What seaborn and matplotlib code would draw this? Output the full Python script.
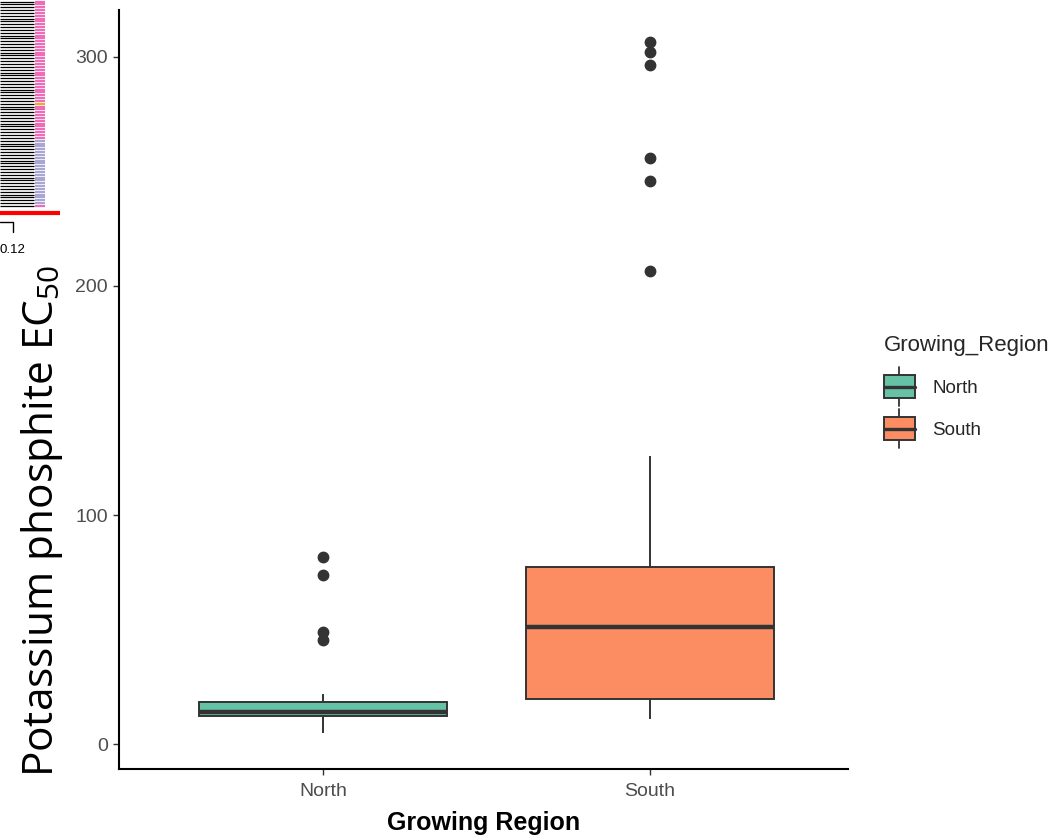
import numpy as np
import pandas as pd
import matplotlib
matplotlib.use("Agg")
import matplotlib.pyplot as plt
from matplotlib.legend_handler import HandlerBase
from matplotlib.patches import Rectangle
from matplotlib.lines import Line2D
import seaborn as sns

# EC50 values (potassium phosphite) per isolate, by growing region
regions = ["North", "South"]
north_ec50 = [4.8, 9.5, 10.8, 11.5, 12.0, 12.2, 12.6, 13.0, 13.4, 13.8, 14.0,
              14.6, 15.3, 16.2, 17.4, 18.2, 21.8, 45.5, 49.0, 73.7, 81.8]
south_ec50 = [10.9, 13.5, 15.2, 16.4, 17.3, 18.2, 18.9, 19.5, 22.4, 26.8,
              31.5, 36.0, 41.3, 46.7, 51.2, 55.6, 59.8, 63.5, 67.0, 70.4,
              74.1, 77.2, 125.8, 206.7, 245.7, 256.0, 296.4, 302.3, 306.6]
region_colors = ["#66C2A5", "#FC8D62"]
y_ticks = [0, 100, 200, 300]

# Dendrogram strip (clusters of leaves, top to bottom)
cluster_sizes = [36, 1, 12, 23, 1]
cluster_colors = ["#F06BB8", "#F5A623", "#F06BB8", "#A9A6D6", "#F06BB8"]
scale_label = "0.12"

df = pd.DataFrame({
    "Growing_Region": ["North"] * len(north_ec50) + ["South"] * len(south_ec50),
    "EC50": north_ec50 + south_ec50,
})

sns.set_theme(style="white")
plt.rcParams["font.family"] = ["Liberation Sans", "DejaVu Sans"]
plt.rcParams["mathtext.fontset"] = "custom"
plt.rcParams["mathtext.rm"] = "Open Sans"
plt.rcParams["mathtext.it"] = "Open Sans:italic"

W, H = 1059, 836
fig = plt.figure(figsize=(W / 100, H / 100), dpi=100)
ax = fig.add_axes([119 / W, 1 - 769 / H, (848 - 119) / W, (769 - 10) / H])

edge = "#333333"
sns.boxplot(
    data=df, x="Growing_Region", y="EC50", hue="Growing_Region",
    order=regions, hue_order=regions, palette=region_colors, saturation=1,
    width=0.76, linewidth=1.4, linecolor=edge, showcaps=False,
    flierprops=dict(marker="o", markersize=7.5, markerfacecolor=edge,
                    markeredgecolor=edge),
    medianprops=dict(color=edge, linewidth=3.2),
    legend=False, ax=ax,
)

ax.set_xlim(-0.624, 1.606)
ax.set_ylim(-10.9, 320.5)
ax.set_yticks(y_ticks)
ax.set_yticklabels([str(t) for t in y_ticks])
for side in ["top", "right"]:
    ax.spines[side].set_visible(False)
for side in ["left", "bottom"]:
    ax.spines[side].set_color("black")
    ax.spines[side].set_linewidth(1.5)
ax.tick_params(axis="both", which="both", length=4, width=1.0, color=edge,
               labelsize=14, labelcolor="#4D4D4D", pad=4,
               left=True, bottom=True)
ax.tick_params(axis="x", pad=6)

ax.set_xlabel("Growing Region", fontsize=18, fontweight="bold",
              color="black", labelpad=8)
ax.set_ylabel("")
fig.text(42 / W, 1 - 521 / H, "Potassium phosphite EC$_{50}$", fontsize=30.5,
         family=["Open Sans", "DejaVu Sans"], color="black",
         rotation=90, ha="center", va="center")


class BoxHandler(HandlerBase):
    def create_artists(self, legend, orig_handle, xdescent, ydescent,
                       width, height, fontsize, trans):
        fc = orig_handle.get_facecolor()
        bw = width * 0.95
        x0 = -xdescent + (width - bw) / 2
        bh = height * 1.25
        y0 = -ydescent + (height - bh) / 2
        cx = x0 + bw / 2
        rect = Rectangle((x0, y0), bw, bh, facecolor=fc, edgecolor=edge,
                         linewidth=1.4, transform=trans)
        mid = Line2D([x0, x0 + bw], [y0 + bh / 2] * 2, color=edge,
                     linewidth=2.4, transform=trans)
        w1 = Line2D([cx, cx], [y0 + bh, y0 + bh + height * 0.45], color=edge,
                    linewidth=1.3, transform=trans)
        w2 = Line2D([cx, cx], [y0, y0 - height * 0.45], color=edge,
                    linewidth=1.3, transform=trans)
        return [w1, w2, rect, mid]


handles = [Rectangle((0, 0), 1, 1, facecolor=c) for c in region_colors]
leg = fig.legend(handles, regions, title="Growing_Region",
                 loc="upper left", bbox_to_anchor=(876 / W, 1 - 327 / H),
                 frameon=False, fontsize=13.5, title_fontsize=16,
                 handler_map={Rectangle: BoxHandler()},
                 handlelength=1.7, handleheight=1.1, labelspacing=1.2,
                 handletextpad=0.9, borderaxespad=0)
leg._legend_box.align = "left"
leg._legend_box.sep = 16

# Dendrogram strip in the upper-left corner
dax = fig.add_axes([0, 1 - 262 / H, 70 / W, 262 / H])
dax.set_xlim(0, 70)
dax.set_ylim(262, 0)
dax.axis("off")
leaf_colors = [c for n, c in zip(cluster_sizes, cluster_colors) for _ in range(n)]
n_leaves = len(leaf_colors)
leaf_y = np.linspace(1.5, 206, n_leaves)
dax.hlines(leaf_y, 0, 34, color="black", linewidth=0.9)
dax.hlines(leaf_y, 34.5, 45, colors=leaf_colors, linewidth=1.6)
dax.hlines([213], 0, 60, color="#FF0000", linewidth=3)
dax.plot([0, 13, 13], [222, 222, 232], color="black", linewidth=1.0)
dax.text(-1, 250, scale_label, fontsize=9.5, color="black",
         ha="left", va="center")

fig.savefig("out.png", dpi=100, facecolor="white")
